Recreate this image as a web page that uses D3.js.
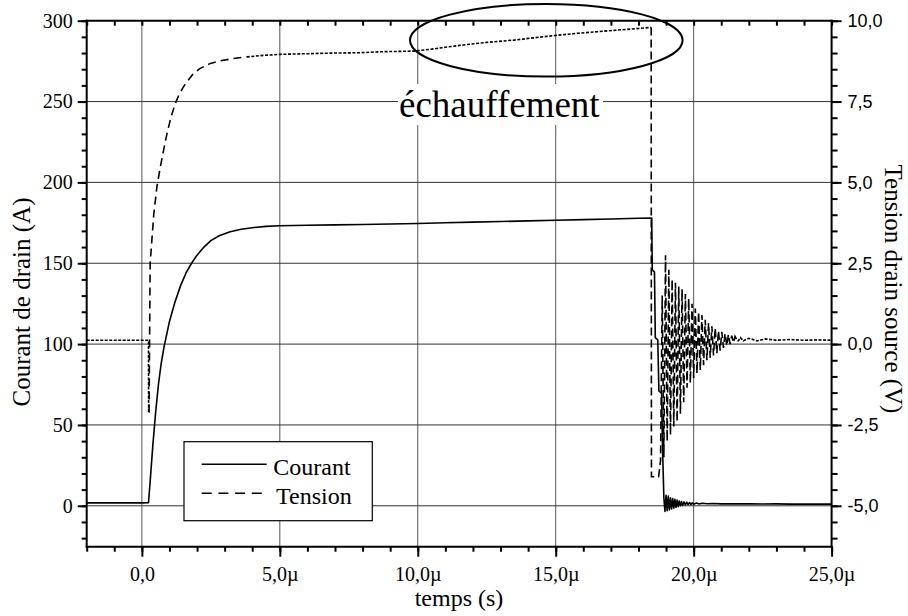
<!DOCTYPE html>
<html><head><meta charset="utf-8">
<script src="https://cdn.jsdelivr.net/npm/d3@7"></script>
<style>body{margin:0;background:#fff}</style>
</head><body><svg id="c" width="908" height="616"></svg>
<script>
// ---- data (time in µs) ----
const currentSeries = [
 [-2,1.8],[-1.5,1.9],[-1,1.8],[-0.5,1.9],[0,1.8],[0.24,1.9],[0.3,15],[0.4,38],[0.5,58],[0.6,75],[0.7,88],[0.8,98],
 [1.0,114],[1.2,126],[1.4,136],[1.6,144],[1.8,150],[2.0,155],[2.25,160],[2.5,164],[2.8,167],[3.2,169.5],[3.6,171],
 [4.0,172],[4.5,172.8],[5.0,173.2],[6,173.5],[7,173.7],[8,174],[9,174.3],[10,174.6],[11,175],[12,175.4],[13,175.8],
 [14,176.2],[15,176.6],[16,177],[17,177.4],[18,177.8],[18.48,178],[18.5,146],[18.58,144.5],[18.61,104],[18.7,102.5],
 [18.74,71],[18.84,69.5],[18.87,37],[18.92,5],[18.96,-3.5],[19.0,6.5],[19.04,-3],[19.08,6],[19.12,-2.5],[19.16,5],
 [19.2,-2],[19.24,4.5],[19.28,-1.5],[19.32,4],[19.36,-1],[19.4,3.5],[19.44,-0.5],[19.48,3],[19.52,0],[19.56,2.6],
 [19.6,0.2],[19.65,2.4],[19.7,0.5],[19.75,2.2],[19.8,0.7],[19.85,2],[19.9,0.8],[19.95,1.8],[20.0,1.0],[20.1,1.7],
 [20.2,1.1],[20.3,1.6],[20.5,1.3],[20.7,1.4],[21,1.2],[21.5,1.3],[22,1.2],[22.5,1.1],[23,1.2],[23.5,1.0],[24,1.1],
 [24.5,1.0],[25,1.0]
];
const tensionSeries = [
 [-2,0.12],[-1,0.12],[0,0.12],[0.24,0.12],[0.245,-2.1],[0.26,-2.1],[0.3,2.5],[0.43,4.0],[0.55,4.9],[0.67,5.48],
 [0.8,6.05],[0.91,6.51],[1.05,7.0],[1.21,7.44],[1.35,7.72],[1.51,7.96],[1.7,8.18],[1.87,8.37],[2.1,8.52],[2.48,8.68],
 [2.9,8.77],[3.32,8.83],[3.8,8.88],[4.29,8.92],[5.02,8.96],[6.0,8.98],[7.0,9.0],[7.92,9.01],[8.64,9.04],[9.85,9.06],
 [10.5,9.12],[11.0,9.18],[11.66,9.25],[12.5,9.33],[13.48,9.4],[14.2,9.47],[15.05,9.55],[15.8,9.61],[16.5,9.66],
 [17.4,9.72],[18.0,9.76],[18.43,9.79],[18.46,9.79],[18.47,-4.1],[18.73,-4.1],[18.8,-3.6],[18.86,1.5],[18.92,-3.5],
 [18.98,2.75],[19.04,-3.0],[19.10,2.3],[19.16,-2.8],[19.22,2.0],[19.28,-2.55],[19.34,1.9],[19.40,-2.4],[19.46,1.78],
 [19.52,-2.15],[19.58,1.7],[19.64,-1.8],[19.70,1.55],[19.76,-1.35],[19.82,1.4],[19.88,-1.2],[19.94,1.25],[20.00,-1.05],
 [20.06,1.1],[20.12,-0.9],[20.18,1.0],[20.24,-0.8],[20.30,0.9],[20.36,-0.65],[20.42,0.75],[20.48,-0.5],[20.54,0.65],
 [20.60,-0.42],[20.66,0.55],[20.72,-0.35],[20.78,0.5],[20.84,-0.28],[20.90,0.42],[20.96,-0.2],[21.02,0.38],[21.08,-0.12],
 [21.14,0.33],[21.20,-0.05],[21.26,0.3],[21.32,0.0],[21.38,0.26],[21.44,0.04],[21.50,0.24],[21.6,0.08],[21.7,0.2],
 [21.8,0.1],[22.0,0.18],[22.3,0.1],[22.6,0.16],[23,0.12],[23.5,0.14],[24,0.12],[24.5,0.13],[25,0.12]
];
const xTicks = [0,5,10,15,20,25];
const xTickLabels = ["0,0","5,0µ","10,0µ","15,0µ","20,0µ","25,0µ"];
const leftTicks = [0,50,100,150,200,250,300];
const leftTickLabels = ["0","50","100","150","200","250","300"];
const rightTicks = [-5,-2.5,0,2.5,5,7.5,10];
const rightTickLabels = ["-5,0","-2,5","0,0","2,5","5,0","7,5","10,0"];
const legendLabels = ["Courant","Tension"];
const titles = {x:"temps (s)", left:"Courant de drain (A)", right:"Tension drain source (V)", note:"échauffement"};

// ---- layout ----
const L=86.7, R=831.6, T=20.7, B=546.7;
const svg = d3.select("#c");
const x = d3.scaleLinear().domain([-2,25]).range([L,R]);
const yL = d3.scaleLinear().domain([-25.3,300]).range([B,T]);
const yR = d3.scaleLinear().domain([-6.265,10]).range([B,T]);
const serif = "'Liberation Serif','Times New Roman',serif";
const sans = "'Liberation Sans',Arial,sans-serif";

// grid
const g = svg.append("g");
g.selectAll(".gx").data(xTicks.filter(d=>d<25)).join("line")
 .attr("x1",d=>x(d)).attr("x2",d=>x(d)).attr("y1",T).attr("y2",B)
 .attr("stroke","#555").attr("stroke-width",1);
g.selectAll(".gy").data(leftTicks.filter(d=>d<300)).join("line")
 .attr("x1",L).attr("x2",R).attr("y1",d=>yL(d)).attr("y2",d=>yL(d))
 .attr("stroke","#333").attr("stroke-width",1);

// curves
const lineC = d3.line().x(d=>x(d[0])).y(d=>yL(d[1]));
const lineT = d3.line().x(d=>x(d[0])).y(d=>yR(d[1]));
svg.append("path").datum(currentSeries).attr("d",lineC).attr("fill","none")
 .attr("stroke","#000").attr("stroke-width",1.6).attr("stroke-linejoin","round");
const tensionStyles = [
 {from:-2, to:0.245, dash:"3,1.5"},
 {from:0.245, to:3.8, dash:"8,5"},
 {from:3.8, to:18.46, dash:"3,1.6"},
 {from:18.46, to:21.6, dash:"8,4"},
 {from:21.6, to:25, dash:"3,1.5"}
];
tensionStyles.forEach(s=>{
  svg.append("path").datum(tensionSeries.filter(d=>d[0]>=s.from && d[0]<=s.to))
   .attr("d",lineT).attr("fill","none").attr("stroke","#000").attr("stroke-width",1.6)
   .attr("stroke-dasharray",s.dash);
});

// annotation
svg.append("rect").attr("x",398).attr("y",84).attr("width",205).attr("height",41).attr("fill","#fff");
svg.append("text").attr("x",399).attr("y",117).attr("font-family",serif).attr("font-size",37)
 .attr("fill","#000").text(titles.note);
svg.append("ellipse").attr("cx",546.3).attr("cy",40.3).attr("rx",136.3).attr("ry",36.3)
 .attr("fill","none").attr("stroke","#000").attr("stroke-width",2);

// legend
svg.append("rect").attr("x",184).attr("y",441.7).attr("width",188.3).attr("height",79)
 .attr("fill","#fff").attr("stroke","#000").attr("stroke-width",1.2);
svg.append("line").attr("x1",201.7).attr("x2",266.7).attr("y1",464.3).attr("y2",464.3)
 .attr("stroke","#000").attr("stroke-width",1.6);
svg.append("line").attr("x1",201.7).attr("x2",262).attr("y1",493.3).attr("y2",493.3)
 .attr("stroke","#000").attr("stroke-width",1.6).attr("stroke-dasharray","10,6.7");
svg.append("text").attr("x",273.3).attr("y",475).attr("font-family",serif).attr("font-size",24).text(legendLabels[0]);
svg.append("text").attr("x",276).attr("y",504).attr("font-family",serif).attr("font-size",24).text(legendLabels[1]);

// axes
const minorX = d3.range(-2,26,1);
const minorY = d3.range(-20,301,10);
function styleAxis(sel){ sel.select(".domain").remove(); sel.selectAll(".tick line").attr("stroke","#000").attr("stroke-width",2); }
svg.append("g").attr("transform",`translate(0,${B})`)
 .call(d3.axisBottom(x).tickValues(minorX).tickSize(5).tickFormat("")).call(styleAxis);
svg.append("g").attr("transform",`translate(0,${B})`)
 .call(d3.axisBottom(x).tickValues(xTicks).tickSize(10).tickPadding(10).tickFormat((d,i)=>xTickLabels[i]))
 .call(styleAxis)
 .call(s=>s.selectAll("text").attr("font-family",serif).attr("font-size",20).attr("fill","#000"));
svg.append("g").attr("transform",`translate(0,${T})`)
 .call(d3.axisBottom(x).tickValues(minorX).tickSize(5).tickFormat("")).call(styleAxis);
svg.append("g").attr("transform",`translate(${L},0)`)
 .call(d3.axisLeft(yL).tickValues(minorY).tickSize(5).tickFormat("")).call(styleAxis);
svg.append("g").attr("transform",`translate(${L},0)`)
 .call(d3.axisLeft(yL).tickValues(leftTicks).tickSize(9).tickPadding(5).tickFormat((d,i)=>leftTickLabels[i]))
 .call(styleAxis)
 .call(s=>s.selectAll("text").attr("font-family",serif).attr("font-size",20).attr("fill","#000"));
svg.append("g").attr("transform",`translate(${R},0)`)
 .call(d3.axisRight(yR).tickValues(d3.range(-6,10.01,0.5)).tickSize(6).tickFormat("")).call(styleAxis);
svg.append("g").attr("transform",`translate(${R},0)`)
 .call(d3.axisRight(yR).tickValues(rightTicks).tickSize(10).tickPadding(6).tickFormat((d,i)=>rightTickLabels[i]))
 .call(styleAxis)
 .call(s=>s.selectAll("text").attr("font-family",sans).attr("font-size",18).attr("fill","#000"));
// axis frame
[[L,T,R,T],[L,B,R,B],[L,T,L,B],[R,T,R,B]].forEach(a=>{
  svg.append("line").attr("x1",a[0]).attr("y1",a[1]).attr("x2",a[2]).attr("y2",a[3])
   .attr("stroke","#000").attr("stroke-width",2).attr("stroke-linecap","square");
});

// titles
svg.append("text").attr("x",459).attr("y",606).attr("text-anchor","middle")
 .attr("font-family",serif).attr("font-size",24).text(titles.x);
svg.append("text").attr("transform","translate(30,302) rotate(-90)").attr("text-anchor","middle")
 .attr("font-family",serif).attr("font-size",25).text(titles.left);
svg.append("text").attr("transform","translate(885,289) rotate(90)").attr("text-anchor","middle")
 .attr("font-family",serif).attr("font-size",25).text(titles.right);
</script></body></html>
